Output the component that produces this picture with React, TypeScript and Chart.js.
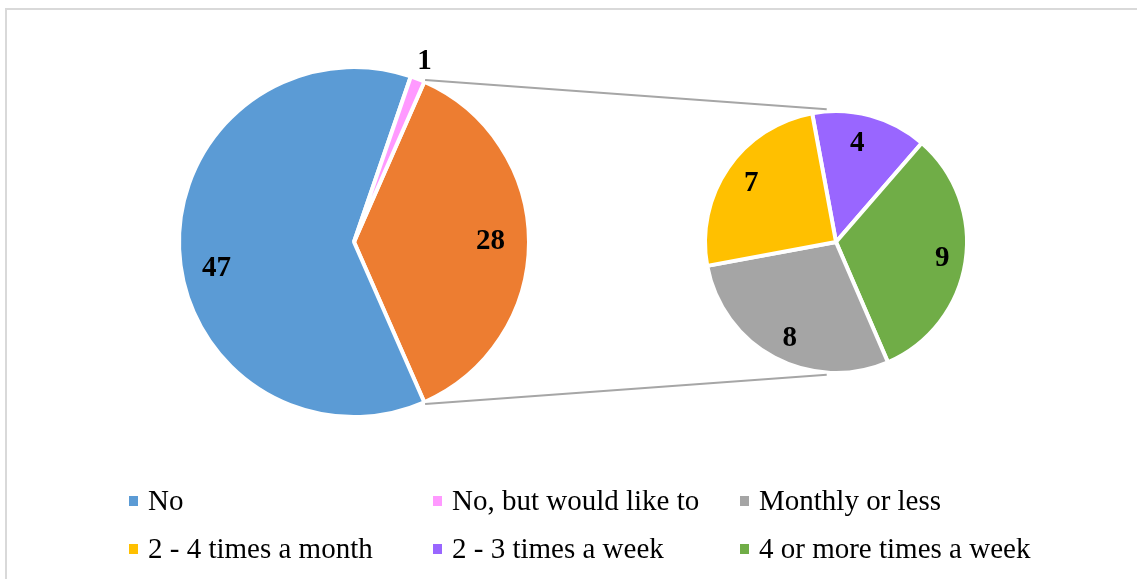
import React, { useEffect, useRef } from "react";
import { Chart, registerables } from "chart.js";

Chart.register(...registerables);

// Main pie: answers shown directly
const primaryLabels = ["No", "No, but would like to"];
const primaryValues = [47, 1];

// Breakdown of the "yes" answers, shown in the secondary pie
const detailLabels = ["2 - 3 times a week", "4 or more times a week", "Monthly or less", "2 - 4 times a month"];
const detailValues = [4, 9, 8, 7];

// Legend reading order (two rows of three)
const legendOrder = [
  "No",
  "No, but would like to",
  "Monthly or less",
  "2 - 4 times a month",
  "2 - 3 times a week",
  "4 or more times a week",
];

const COLORS: Record<string, string> = {
  Other: "#ED7D31",
  No: "#5B9BD5",
  "No, but would like to": "#FF99FF",
  "2 - 3 times a week": "#9966FF",
  "4 or more times a week": "#70AD47",
  "Monthly or less": "#A5A5A5",
  "2 - 4 times a month": "#FFC000",
};

const W = 1137;
const H = 579;
const LABEL_FONT = 'bold 29px "Liberation Serif", "Times New Roman", serif';

type Placement = { r: number; shift: number };

// label placement per slice: radius fraction and angular nudge (degrees)
const mainPlacement: Placement[] = [
  { r: 0.78, shift: 0 },
  { r: 0.8, shift: -8.6 },
  { r: 1.11, shift: 0 },
];
const detailPlacement: Placement[] = [
  { r: 0.77, shift: -3 },
  { r: 0.82, shift: 0 },
  { r: 0.82, shift: -2.5 },
  { r: 0.785, shift: 0 },
];

const valueLabels = (placement: Placement[]) => ({
  id: "valueLabels",
  afterDatasetsDraw(chart: any) {
    const ctx = chart.ctx;
    const meta = chart.getDatasetMeta(0);
    const values = chart.data.datasets[0].data as number[];
    ctx.save();
    ctx.font = LABEL_FONT;
    ctx.fillStyle = "#000000";
    ctx.textAlign = "center";
    ctx.textBaseline = "middle";
    meta.data.forEach((arc: any, i: number) => {
      const p = arc.getProps(["x", "y", "startAngle", "endAngle", "outerRadius"], true);
      const pl = placement[i];
      const a = (p.startAngle + p.endAngle) / 2 + (pl.shift * Math.PI) / 180;
      const rr = p.outerRadius * pl.r;
      ctx.fillText(String(values[i]), p.x + rr * Math.cos(a), p.y + rr * Math.sin(a));
    });
    ctx.restore();
  },
});

export default function App() {
  const leftRef = useRef<HTMLCanvasElement | null>(null);
  const rightRef = useRef<HTMLCanvasElement | null>(null);

  useEffect(() => {
    if (!leftRef.current || !rightRef.current) return;
    const otherTotal = detailValues.reduce((s, v) => s + v, 0);
    const mainValues = [otherTotal, ...primaryValues];
    const mainTotal = mainValues.reduce((s, v) => s + v, 0);
    // centre the aggregated slice on the right-hand side
    const mainRotation = 90 - (otherTotal / mainTotal) * 180;

    const left = new Chart(leftRef.current, {
      type: "pie",
      data: {
        labels: ["Other", ...primaryLabels],
        datasets: [
          {
            data: mainValues,
            backgroundColor: ["Other", ...primaryLabels].map((l) => COLORS[l]),
            borderColor: "#ffffff",
            borderWidth: 4,
          },
        ],
      },
      options: {
        responsive: false,
        animation: false,
        rotation: mainRotation,
        radius: 175,
        layout: { padding: { left: 0, right: 429, top: 0, bottom: 95 } },
        plugins: { legend: { display: false }, tooltip: { enabled: false } },
      },
      plugins: [valueLabels(mainPlacement)],
    });

    const connectors = {
      id: "connectors",
      afterDraw(chart: any) {
        const src = left.getDatasetMeta(0).data[0] as any;
        const dst = chart.getDatasetMeta(0).data[0] as any;
        if (!src || !dst) return;
        const s = src.getProps(["x", "y", "startAngle", "endAngle", "outerRadius"], true);
        const d = dst.getProps(["x", "y", "outerRadius"], true);
        const ctx = chart.ctx;
        const sr = s.outerRadius + 2;
        const dr = d.outerRadius + 2;
        const top = (-94 * Math.PI) / 180;
        const bottom = (94 * Math.PI) / 180;
        ctx.save();
        ctx.strokeStyle = "#A6A6A6";
        ctx.lineWidth = 2;
        ctx.beginPath();
        ctx.moveTo(s.x + sr * Math.cos(s.startAngle), s.y + sr * Math.sin(s.startAngle));
        ctx.lineTo(d.x + dr * Math.cos(top), d.y + dr * Math.sin(top));
        ctx.moveTo(s.x + sr * Math.cos(s.endAngle), s.y + sr * Math.sin(s.endAngle));
        ctx.lineTo(d.x + dr * Math.cos(bottom), d.y + dr * Math.sin(bottom));
        ctx.stroke();
        ctx.restore();
      },
    };

    const right = new Chart(rightRef.current, {
      type: "pie",
      data: {
        labels: detailLabels,
        datasets: [
          {
            data: detailValues,
            backgroundColor: detailLabels.map((l) => COLORS[l]),
            borderColor: "#ffffff",
            borderWidth: 4,
          },
        ],
      },
      options: {
        responsive: false,
        animation: false,
        rotation: -10.5,
        radius: 131,
        layout: { padding: { left: 535, right: 0, top: 0, bottom: 95 } },
        plugins: { legend: { display: false }, tooltip: { enabled: false } },
      },
      plugins: [valueLabels(detailPlacement), connectors],
    });

    return () => {
      right.destroy();
      left.destroy();
    };
  }, []);

  const colX = [129, 433, 740];
  const rowY = [500, 548];

  return (
    <div
      style={{
        position: "fixed",
        left: 0,
        top: 0,
        width: W,
        height: H,
        overflow: "hidden",
        background: "#ffffff",
      }}
    >
      <div
        style={{
          position: "absolute",
          left: 5,
          top: 8,
          width: W + 50,
          height: H + 50,
          borderLeft: "2px solid #D9D9D9",
          borderTop: "2px solid #D9D9D9",
        }}
      />
      <canvas ref={leftRef} width={W} height={H} style={{ position: "absolute", left: 0, top: 0 }} />
      <canvas ref={rightRef} width={W} height={H} style={{ position: "absolute", left: 0, top: 0 }} />
      {legendOrder.map((label, i) => (
        <div
          key={label}
          style={{
            position: "absolute",
            left: colX[i % 3],
            top: rowY[Math.floor(i / 3)] - 17,
            height: 34,
            display: "flex",
            alignItems: "center",
            fontFamily: '"Liberation Serif", "Times New Roman", serif',
            fontSize: 29,
            lineHeight: "34px",
            color: "#000000",
            whiteSpace: "nowrap",
          }}
        >
          <span
            style={{
              display: "inline-block",
              width: 9,
              height: 10,
              background: COLORS[label],
              marginRight: 10,
              marginTop: 2,
            }}
          />
          <span>{label}</span>
        </div>
      ))}
    </div>
  );
}
